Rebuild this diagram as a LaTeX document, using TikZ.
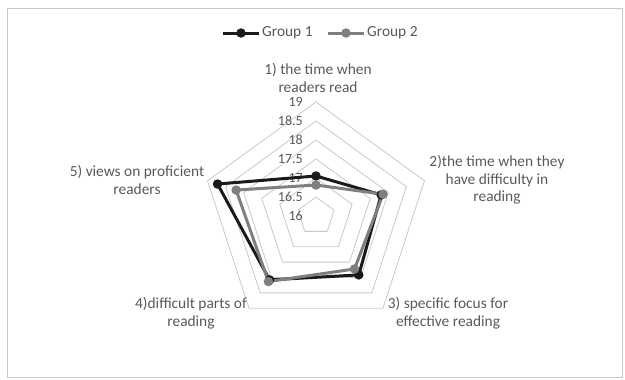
\documentclass[tikz,border=0pt]{standalone}
\usepackage{fontspec}
\setmainfont{Carlito}
\usetikzlibrary{calc}
\definecolor{txt}{HTML}{595959}
\definecolor{grid}{HTML}{C8C8C8}
\definecolor{gone}{HTML}{1A1A1A}
\definecolor{gtwo}{HTML}{7F7F7F}
\begin{document}
\begin{tikzpicture}[x=1pt,y=-1pt,
  lbl/.style={font=\fontsize{15.4}{17.5}\selectfont,text=txt,align=center,inner sep=0pt},
  tick/.style={font=\fontsize{14}{16}\selectfont,text=txt,anchor=east,inner sep=0pt},
  ring/.style={draw=grid,line width=0.8pt},
  sone/.style={draw=gone,line width=3pt,line join=round},
  stwo/.style={draw=gtwo,line width=3pt,line join=round},
  mone/.style={circle,fill=gone,minimum size=9.5pt,inner sep=0pt},
  mtwo/.style={circle,fill=gtwo,minimum size=9.5pt,inner sep=0pt}]
\useasboundingbox (0,0) rectangle (625,380);
\draw[grid,line width=0.6pt] (7,8) rectangle (622,377);
\coordinate (C) at (316,216);
% rings (38 px per unit, center = 16)
\foreach \r in {19,38,57,76,95,114}{
  \draw[ring] ($(C)+(-90:\r)$) -- ($(C)+(-18:\r)$) -- ($(C)+(54:\r)$) -- ($(C)+(126:\r)$) -- ($(C)+(-162:\r)$) -- cycle;
}
% tick labels
\foreach \v/\r in {16/0,16.5/19,17/38,17.5/57,18/76,18.5/95,19/114}{
  \node[tick] at (303,216-\r) {\v};
}
% data points
\coordinate (a1) at ($(C)+(-90:40)$);
\coordinate (a2) at ($(C)+(-18:68.5)$);
\coordinate (a3) at ($(C)+(54:72.8)$);
\coordinate (a4) at ($(C)+(126:79)$);
\coordinate (a5) at ($(C)+(-162:103.5)$);
\coordinate (b1) at ($(C)+(-90:31)$);
\coordinate (b2) at ($(C)+(-18:70.5)$);
\coordinate (b3) at ($(C)+(54:65.5)$);
\coordinate (b4) at ($(C)+(126:81)$);
\coordinate (b5) at ($(C)+(-162:84)$);
\draw[sone] (a1) -- (a2) -- (a3) -- (a4) -- (a5) -- cycle;
\draw[stwo] (b1) -- (b2) -- (b3) -- (b4) -- (b5) -- cycle;
\foreach \p in {a1,a2,a3,a4,a5} \node[mone] at (\p) {};
\foreach \p in {b1,b2,b3,b4,b5} \node[mtwo] at (\p) {};
% axis labels
\node[lbl] (l1) at (318,78) {1) the time when\\readers read};
\node[lbl] (l2) at (497,180) {2)the time when they\\have difficulty in\\reading};
\node[lbl] (l3) at (448,313) {3) specific focus for\\effective reading};
\node[lbl] (l4) at (191,313) {4)difficult parts of\\reading};
\node[lbl] (l5) at (137,180) {5) views on proficient\\readers};
% legend
\coordinate (g1s) at (223,33); \coordinate (g1e) at (259,33);
\coordinate (g2s) at (328,33); \coordinate (g2e) at (364,33);
\draw[sone] (g1s) -- (g1e);
\node[mone] (g1m) at (241,33) {};
\node[lbl,anchor=west] (g1t) at (262,33) {Group 1};
\draw[stwo] (g2s) -- (g2e);
\node[mtwo] (g2m) at (346,33) {};
\node[lbl,anchor=west] (g2t) at (367,33) {Group 2};
\end{tikzpicture}
\end{document}
